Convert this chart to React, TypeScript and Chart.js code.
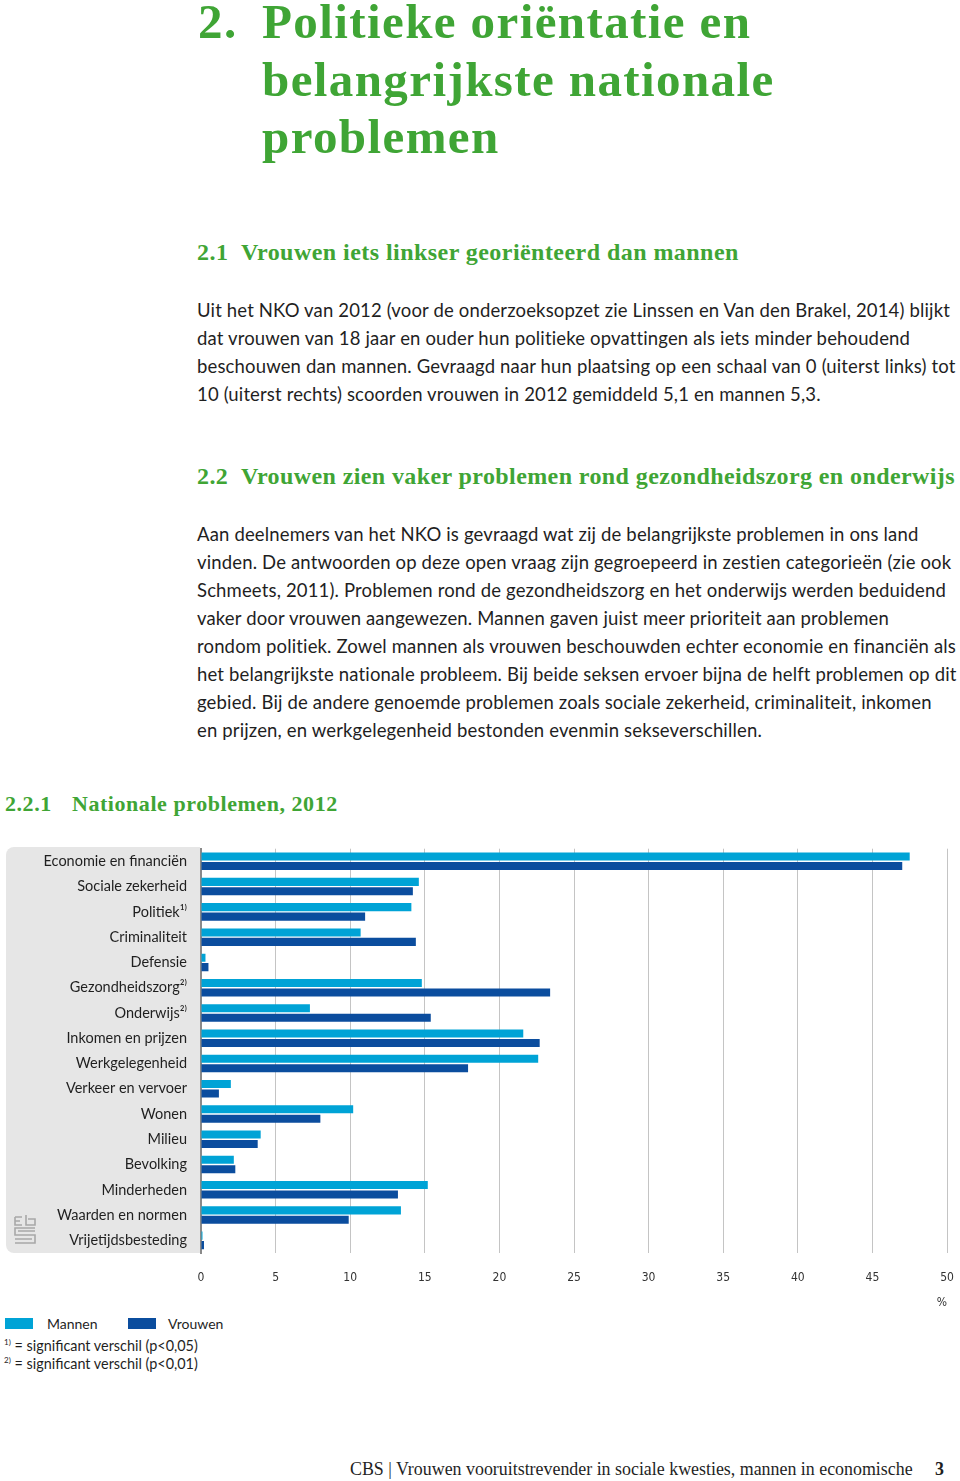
import React, { useEffect, useRef } from "react";
import { Chart, registerables } from "chart.js";

Chart.register(...registerables);

const categories = [
  "Economie en financiën",
  "Sociale zekerheid",
  "Politiek¹⁾",
  "Criminaliteit",
  "Defensie",
  "Gezondheidszorg²⁾",
  "Onderwijs²⁾",
  "Inkomen en prijzen",
  "Werkgelegenheid",
  "Verkeer en vervoer",
  "Wonen",
  "Milieu",
  "Bevolking",
  "Minderheden",
  "Waarden en normen",
  "Vrijetijdsbesteding",
];
const mannen = [47.5, 14.6, 14.1, 10.7, 0.3, 14.8, 7.3, 21.6, 22.6, 2.0, 10.2, 4.0, 2.2, 15.2, 13.4, 0.1];
const vrouwen = [47.0, 14.2, 11.0, 14.4, 0.5, 23.4, 15.4, 22.7, 17.9, 1.2, 8.0, 3.8, 2.3, 13.2, 9.9, 0.2];
const xMin = 0;
const xMax = 50;
const xStep = 5;
const xUnit = "%";
const seriesNames = ["Mannen", "Vrouwen"];
const colMannen = "#00a3d6";
const colVrouwen = "#0b4d9e";

const GREEN = "#3fa535";
const SERIF = "'Liberation Serif', 'DejaVu Serif', serif";
const SANS = "Lato, 'Open Sans', sans-serif";
const TICKFONT = "'DejaVu Sans Condensed', 'DejaVu Sans', sans-serif";

function L(props: { x: number; base: number; size: number; serif?: boolean; bold?: boolean; color?: string; ls?: number; children: any }) {
  const k = props.serif ? 0.8375 : 0.887;
  return (
    <div
      style={{
        position: "absolute",
        left: props.x,
        top: props.base - props.size * k,
        fontSize: props.size,
        lineHeight: 1,
        fontFamily: props.serif ? SERIF : SANS,
        fontWeight: props.bold ? 700 : 400,
        color: props.color || "#1f1f1f",
        whiteSpace: "nowrap",
        letterSpacing: props.ls || 0,
      }}
    >
      {props.children}
    </div>
  );
}

const para1 = [
  "Uit het NKO van 2012 (voor de onderzoeksopzet zie Linssen en Van den Brakel, 2014) blijkt",
  "dat vrouwen van 18 jaar en ouder hun politieke opvattingen als iets minder behoudend",
  "beschouwen dan mannen. Gevraagd naar hun plaatsing op een schaal van 0 (uiterst links) tot",
  "10 (uiterst rechts) scoorden vrouwen in 2012 gemiddeld 5,1 en mannen 5,3.",
];
const para2 = [
  "Aan deelnemers van het NKO is gevraagd wat zij de belangrijkste problemen in ons land",
  "vinden. De antwoorden op deze open vraag zijn gegroepeerd in zestien categorieën (zie ook",
  "Schmeets, 2011). Problemen rond de gezondheidszorg en het onderwijs werden beduidend",
  "vaker door vrouwen aangewezen. Mannen gaven juist meer prioriteit aan problemen",
  "rondom politiek. Zowel mannen als vrouwen beschouwden echter economie en financiën als",
  "het belangrijkste nationale probleem. Bij beide seksen ervoer bijna de helft problemen op dit",
  "gebied. Bij de andere genoemde problemen zoals sociale zekerheid, criminaliteit, inkomen",
  "en prijzen, en werkgelegenheid bestonden evenmin sekseverschillen.",
];

function BarChart() {
  const ref = useRef<HTMLCanvasElement>(null);
  useEffect(() => {
    if (!ref.current) return;
    const chart = new Chart(ref.current, {
      type: "bar",
      data: {
        labels: categories,
        datasets: [
          { label: seriesNames[0], data: mannen, backgroundColor: colMannen, categoryPercentage: 0.75, barPercentage: 0.85 },
          { label: seriesNames[1], data: vrouwen, backgroundColor: colVrouwen, categoryPercentage: 0.75, barPercentage: 0.85 },
        ],
      },
      options: {
        indexAxis: "y",
        responsive: false,
        maintainAspectRatio: false,
        animation: false,
        layout: { padding: { top: 8, right: 13, left: 0, bottom: 0 } },
        plugins: { legend: { display: false }, tooltip: { enabled: false } },
        scales: {
          x: {
            min: xMin,
            max: xMax,
            afterFit: (s: any) => {
              s.height = 57;
            },
            ticks: {
              stepSize: xStep,
              padding: 0,
              color: "#333",
              font: { family: TICKFONT, size: 12 },
            },
            grid: { color: "#c4c4c4", lineWidth: 1, drawTicks: true, tickLength: 18, tickColor: "rgba(0,0,0,0)" },
            border: { display: false },
            title: {
              display: true,
              text: xUnit,
              align: "end",
              color: "#333",
              padding: { top: 0, bottom: 0 },
              font: { family: TICKFONT, size: 12 },
            },
          },
          y: {
            afterFit: (s: any) => {
              s.width = 201;
            },
            ticks: { padding: 0, color: "#1f1f1f", font: { family: SANS, size: 14.5 } },
            grid: { display: false, drawTicks: true, tickLength: 14 },
            border: { display: true, color: "#8a8a8a", width: 2 },
          },
        },
      },
    } as any);
    return () => chart.destroy();
  }, []);
  return <canvas ref={ref} width={960} height={470} style={{ position: "absolute", left: 0, top: 840, width: 960, height: 470 }} />;
}

function Logo() {
  return (
    <svg width={22} height={30} viewBox="0 0 22 30" style={{ position: "absolute", left: 14, top: 1215 }}>
      <g fill="none" stroke="#a8a8a8" strokeWidth={1.6}>
        <path d="M1 2 H8 M1 2 V10 H8 M1 6 H6" />
        <path d="M12 0 V10 H21 V4 H14" />
        <path d="M21 13 H1 V20 H21 V28 H1 M4 16 H21 M1 24 H18" />
      </g>
    </svg>
  );
}

export default function App() {
  return (
    <div style={{ position: "absolute", left: 0, top: 0, width: 960, height: 1481, background: "#fff", overflow: "hidden" }}>
      {/* Title */}
      <L x={198} base={38} size={49} serif bold color={GREEN} ls={1.4}>2.</L>
      <L x={262} base={38} size={49} serif bold color={GREEN} ls={1.4}>Politieke oriëntatie en</L>
      <L x={262} base={96} size={49} serif bold color={GREEN} ls={1.4}>belangrijkste nationale</L>
      <L x={262} base={153} size={49} serif bold color={GREEN} ls={1.4}>problemen</L>

      <L x={197} base={260} size={24} serif bold color={GREEN} ls={0.45}>2.1</L>
      <L x={241} base={260} size={24} serif bold color={GREEN} ls={0.45}>Vrouwen iets linkser georiënteerd dan mannen</L>
      {para1.map((t, i) => (
        <L key={"a" + i} x={197} base={317 + i * 28} size={18.5} ls={0.15}>{t}</L>
      ))}

      <L x={197} base={484} size={24} serif bold color={GREEN} ls={0.4}>2.2</L>
      <L x={241} base={484} size={24} serif bold color={GREEN} ls={0.4}>Vrouwen zien vaker problemen rond gezondheidszorg en onderwijs</L>
      {para2.map((t, i) => (
        <L key={"b" + i} x={197} base={541 + i * 28} size={18.5} ls={0.15}>{t}</L>
      ))}

      <L x={5} base={811} size={22} serif bold color={GREEN} ls={0.55}>2.2.1</L>
      <L x={72} base={811} size={22} serif bold color={GREEN} ls={0.55}>Nationale problemen, 2012</L>

      {/* Chart panel */}
      <div style={{ position: "absolute", left: 6, top: 847, width: 194, height: 406, background: "#e6e6e6", borderRadius: "8px 0 0 8px" }} />
      <Logo />
      <BarChart />

      {/* Legend */}
      <div style={{ position: "absolute", left: 5, top: 1318, width: 28, height: 11, background: colMannen }} />
      <L x={47} base={1329} size={14}>{seriesNames[0]}</L>
      <div style={{ position: "absolute", left: 128, top: 1318, width: 28, height: 11, background: colVrouwen }} />
      <L x={168} base={1329} size={14}>{seriesNames[1]}</L>
      <L x={4} base={1351} size={14.4}><sup style={{ fontSize: 8 }}>1)</sup> = significant verschil (p&lt;0,05)</L>
      <L x={4} base={1369} size={14.4}><sup style={{ fontSize: 8 }}>2)</sup> = significant verschil (p&lt;0,01)</L>

      {/* Footer */}
      <L x={350} base={1476} size={17.9} serif color="#1f1f1f">CBS | Vrouwen vooruitstrevender in sociale kwesties, mannen in economische</L>
      <L x={935} base={1476} size={17.9} serif bold color="#1f1f1f">3</L>
    </div>
  );
}
